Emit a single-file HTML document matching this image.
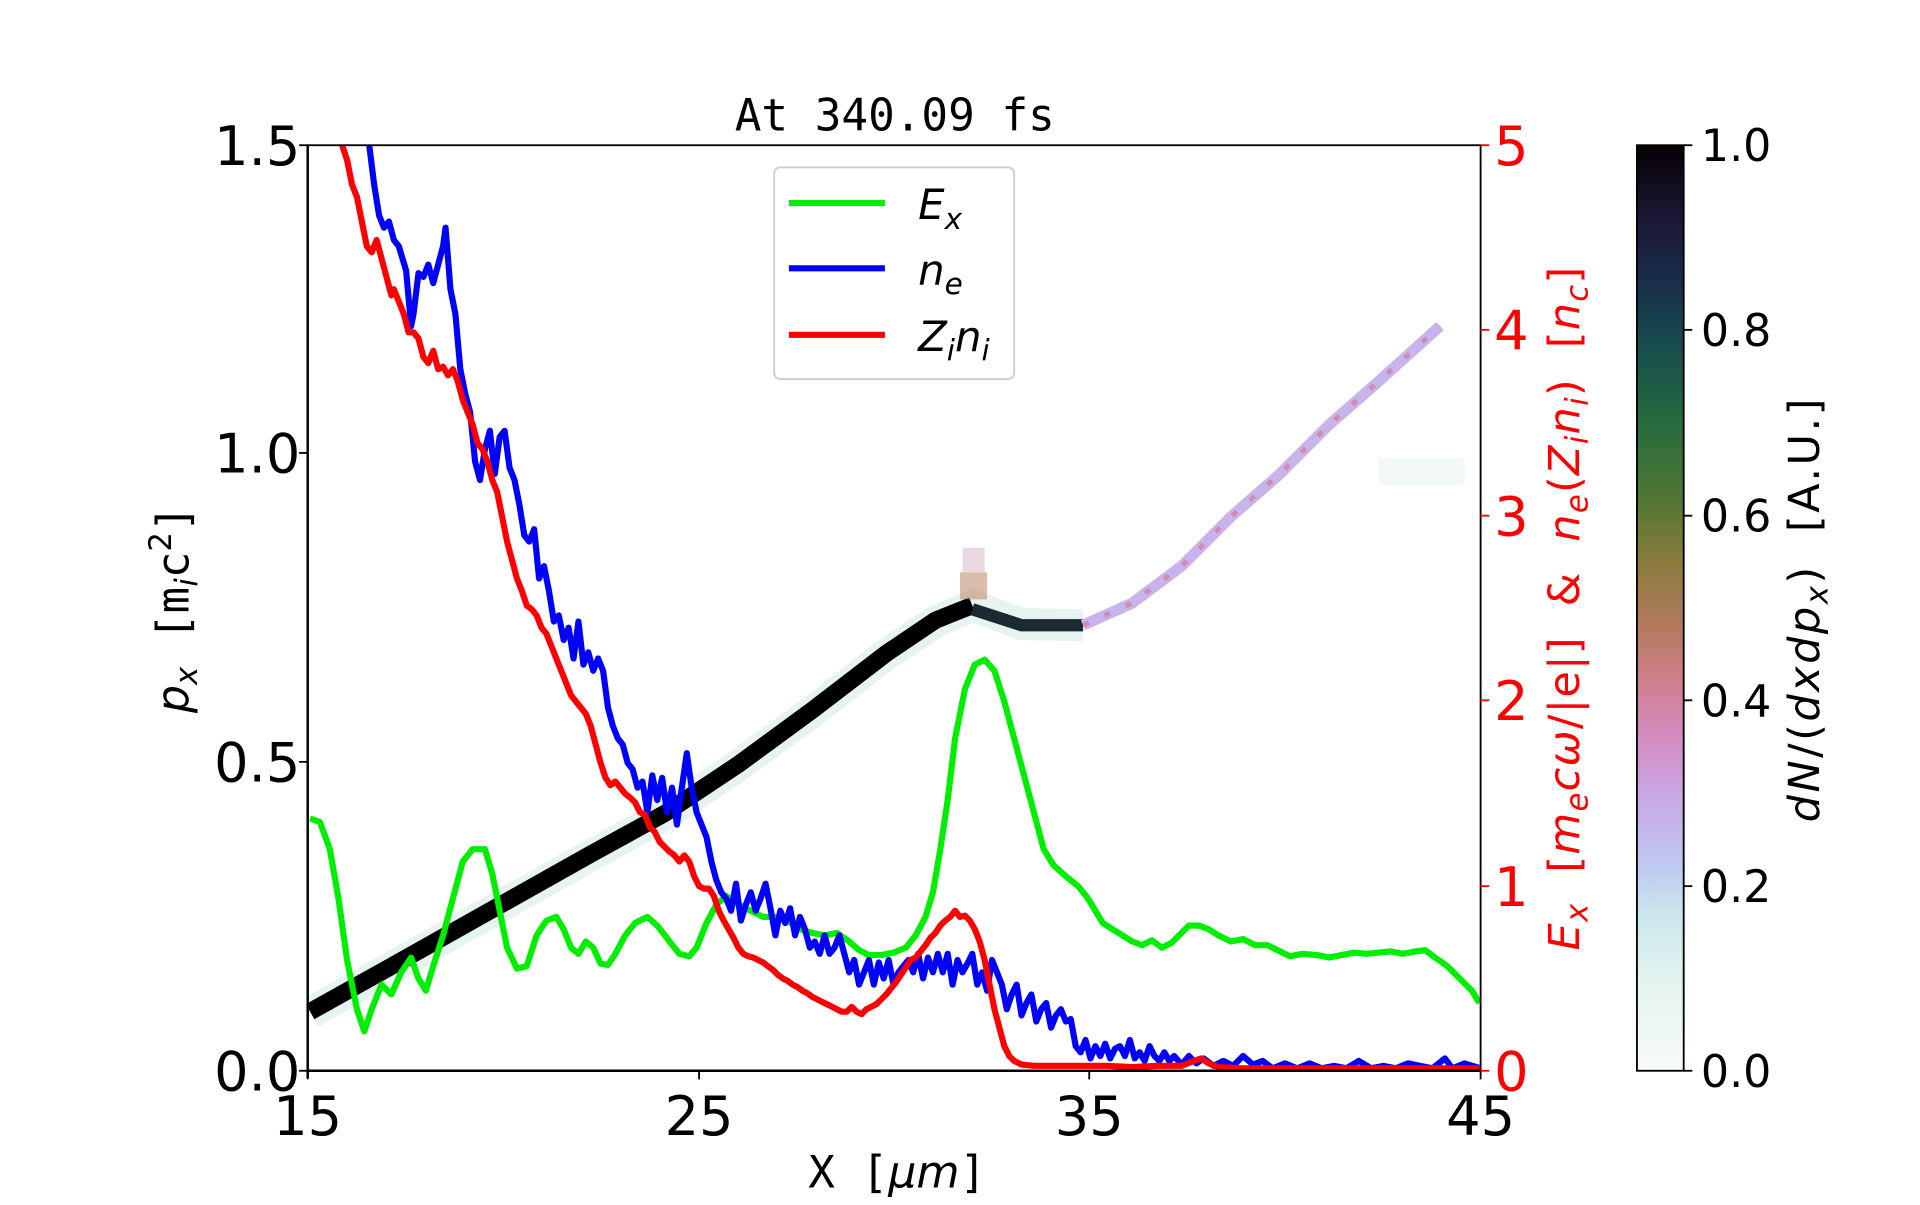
<!DOCTYPE html>
<html><head><style>html,body{margin:0;padding:0;background:#fff;overflow:hidden}</style></head>
<body>
<svg width="1920" height="1200" viewBox="0 0 1560 975" preserveAspectRatio="none" xmlns="http://www.w3.org/2000/svg" font-family="'DejaVu Sans','Liberation Sans',sans-serif">
<defs>
<linearGradient id="cb" x1="0" y1="1" x2="0" y2="0">
<stop offset="0" stop-color="#f7fbf8"/>
<stop offset="0.1" stop-color="#e3f3ee"/>
<stop offset="0.17" stop-color="#c9e6ec"/>
<stop offset="0.22" stop-color="#bfc9f1"/>
<stop offset="0.3" stop-color="#c9a6e3"/>
<stop offset="0.36" stop-color="#d48cc2"/>
<stop offset="0.42" stop-color="#cf7f8e"/>
<stop offset="0.48" stop-color="#b27a5e"/>
<stop offset="0.55" stop-color="#8a7c3c"/>
<stop offset="0.62" stop-color="#4f7632"/>
<stop offset="0.7" stop-color="#266b3e"/>
<stop offset="0.78" stop-color="#174d4d"/>
<stop offset="0.86" stop-color="#1a2b48"/>
<stop offset="0.93" stop-color="#1a1530"/>
<stop offset="1" stop-color="#050004"/>
</linearGradient>
<clipPath id="ax"><rect x="250" y="118" width="953" height="752"/></clipPath>
</defs>
<text x="727" y="106" font-family="'DejaVu Sans Mono','Liberation Mono',monospace" font-size="36" text-anchor="middle">At 340.09 fs</text>

<g clip-path="url(#ax)">
<polyline points="252,823 320,785 400,740 480,695 540,662 600,622 660,578 720,532 760,505 790,492 830,507 880,508" fill="none" stroke="#e6f3f0" stroke-width="26"/>
<polyline points="252,822 320,784 400,739 480,694 540,661 600,621 660,577 720,531 760,504 790,492" fill="none" stroke="#000" stroke-width="14"/>
<polyline points="790,495 830,508 880,508" fill="none" stroke="#1a2a30" stroke-width="10"/>
<polyline points="880,508 920,490 960,460 1000,420 1040,385 1080,345 1120,310 1170,265" fill="none" stroke="#c8b4ec" stroke-width="9"/>
<polyline points="880,508 920,490 960,460 1000,420 1040,385 1080,345 1120,310 1170,265" fill="none" stroke="#d08cb4" stroke-width="4" stroke-dasharray="5 14"/>
<rect x="780" y="465" width="22" height="22" fill="#c09070" opacity="0.6"/>
<rect x="782" y="445" width="18" height="20" fill="#e0c8d8" opacity="0.7"/>
<rect x="1120" y="372" width="70" height="22" fill="#f2f8f5"/>

<polyline fill="none" stroke="#00ee00" stroke-width="5" stroke-linejoin="round" points="252,665 260,668 268,690 275,730 282,780 290,820 296,838 302,820 310,800 318,808 326,790 334,778 340,795 346,805 352,785 360,760 368,730 376,700 384,690 394,690 400,710 406,740 412,770 420,787 428,785 436,760 444,748 452,745 458,755 464,770 470,775 476,765 482,770 488,783 494,784 500,775 508,760 516,750 526,745 534,752 544,765 552,775 560,777 566,770 574,750 582,735 590,728 600,735 610,740 620,745 630,745 640,748 650,755 660,758 670,760 680,758 690,765 698,772 706,776 716,776 726,774 736,770 744,760 752,745 758,725 764,690 770,650 776,600 784,560 792,540 800,536 808,545 816,570 824,600 832,630 840,660 848,690 856,703 866,712 876,720 884,730 890,740 896,750 904,755 912,760 920,765 928,768 936,764 944,770 952,766 960,758 966,752 974,752 982,755 990,760 1000,765 1010,763 1020,768 1030,768 1040,773 1048,777 1058,775 1070,776 1080,778 1090,776 1100,774 1110,775 1120,774 1130,773 1140,775 1150,773 1158,772 1166,778 1176,785 1186,795 1196,805 1202,815"/>
<polyline fill="none" stroke="#0000ff" stroke-width="5" stroke-linejoin="round" points="300,118 304,150 308,175 312,185 316,180 320,195 324,200 330,220 334,265 336,255 340,222 344,225 348,215 352,230 356,215 360,200 362,185 366,235 370,255 374,300 378,320 382,335 386,375 390,390 394,365 398,350 402,385 406,355 410,350 414,380 418,390 422,410 426,435 430,440 434,430 438,470 442,460 446,480 450,505 454,500 458,520 462,510 466,535 470,505 474,540 478,530 482,545 486,535 490,545 494,575 498,590 502,600 506,605 510,620 514,625 518,640 522,635 526,660 530,630 534,650 538,632 542,660 546,640 550,670 554,640 558,612 562,640 566,660 570,670 574,680 578,700 582,715 586,725 590,730 594,740 598,718 602,748 606,735 610,725 614,740 618,730 622,718 626,738 630,760 634,740 638,750 642,738 646,760 650,745 654,755 658,770 662,765 666,775 670,760 674,775 678,770 682,760 686,775 690,790 694,780 698,800 702,790 706,780 710,800 714,782 718,795 722,780 726,800 730,790 734,785 738,780 742,790 746,775 750,795 754,778 758,790 762,775 766,790 770,775 774,800 778,780 782,790 786,783 790,775 794,800 798,790 802,805 806,780 810,790 814,800 818,820 822,808 826,800 830,825 834,815 838,808 842,830 846,820 850,815 854,835 858,825 862,820 866,830 870,828 874,850 878,855 882,845 886,860 890,850 894,858 898,848 902,860 906,852 910,850 914,858 918,845 922,860 926,855 930,862 934,850 938,858 942,862 946,855 950,862 954,858 960,865 966,858 972,864 978,860 986,866 994,862 1002,866 1010,858 1018,865 1026,862 1034,868 1044,864 1054,868 1064,864 1074,868 1084,866 1094,868 1104,862 1114,868 1124,866 1134,868 1144,864 1154,866 1164,868 1174,860 1180,868 1190,864 1203,868"/>
<polyline fill="none" stroke="#ff0000" stroke-width="5" stroke-linejoin="round" points="278,118 282,130 286,150 290,160 294,180 298,200 302,205 306,195 310,210 314,225 318,240 320,235 324,245 328,255 332,270 336,270 340,275 344,290 348,295 352,285 356,300 360,298 364,305 368,300 372,310 376,325 380,335 384,345 388,360 392,365 396,375 400,390 404,400 408,420 412,440 416,455 420,470 424,480 428,492 432,495 436,500 440,510 444,515 448,525 452,535 456,545 460,555 464,565 468,570 472,575 476,580 480,590 484,605 488,620 492,632 496,638 500,635 504,640 508,645 512,648 516,652 520,660 524,662 528,672 532,676 536,684 540,688 544,692 548,695 552,700 556,695 560,700 564,712 568,720 572,722 576,722 580,728 584,740 588,748 592,755 596,762 600,770 604,775 608,777 612,778 616,780 620,782 624,785 628,788 632,792 636,795 640,797 644,800 648,802 652,805 656,807 660,810 664,812 668,814 672,816 676,818 680,820 684,822 688,822 692,818 696,822 700,824 704,820 708,818 712,816 716,812 720,808 724,803 728,798 732,792 736,786 740,780 744,778 748,773 752,768 756,762 760,758 764,752 768,748 772,745 776,740 780,745 784,744 788,748 792,755 796,765 800,780 804,800 808,820 812,835 816,850 820,858 824,862 830,865 840,866 860,866 880,866 900,866 920,867 940,866 960,866 970,862 976,860 982,864 990,867 1010,868 1100,868 1203,868"/>
</g>

<rect x="250" y="118" width="953" height="752" fill="none" stroke="#000" stroke-width="1.5"/>
<line x1="250" y1="870" x2="1203" y2="870" stroke="#000" stroke-width="2"/>
<line x1="250" y1="118" x2="250" y2="876" stroke="#000" stroke-width="2"/>
<g stroke="#000" stroke-width="1.5">
<line x1="243" y1="870" x2="250" y2="870"/><line x1="243" y1="619" x2="250" y2="619"/><line x1="243" y1="368" x2="250" y2="368"/><line x1="243" y1="118" x2="250" y2="118"/>
<line x1="250" y1="870" x2="250" y2="877"/><line x1="568" y1="870" x2="568" y2="877"/><line x1="885" y1="870" x2="885" y2="877"/><line x1="1203" y1="870" x2="1203" y2="877"/>
</g>
<g font-size="44" text-anchor="end">
<text x="244" y="886">0.0</text><text x="244" y="635">0.5</text><text x="244" y="384">1.0</text><text x="244" y="134">1.5</text>
</g>
<g font-size="44" text-anchor="middle">
<text x="250" y="922">15</text><text x="568" y="922">25</text><text x="885" y="922">35</text><text x="1203" y="922">45</text>
</g>
<text x="729" y="965" font-family="'DejaVu Sans Mono','Liberation Mono',monospace" font-size="36" text-anchor="middle">X [<tspan font-style="italic" font-family="'DejaVu Sans',sans-serif">μm</tspan>]</text>
<text transform="translate(153,495) rotate(-90)" font-size="36" text-anchor="middle"><tspan font-style="italic">p</tspan><tspan font-size="25" dy="7" font-style="italic">x</tspan><tspan dy="-7" font-family="'DejaVu Sans Mono',monospace">  [m</tspan><tspan font-size="25" dy="7" font-style="italic">i</tspan><tspan dy="-7" font-family="'DejaVu Sans Mono',monospace">c</tspan><tspan font-size="25" dy="-14">2</tspan><tspan dy="14" font-family="'DejaVu Sans Mono',monospace">]</tspan></text>

<g stroke="#ff0000" stroke-width="1.5">
<line x1="1203" y1="870" x2="1210" y2="870"/><line x1="1203" y1="720" x2="1210" y2="720"/><line x1="1203" y1="569" x2="1210" y2="569"/><line x1="1203" y1="419" x2="1210" y2="419"/><line x1="1203" y1="268" x2="1210" y2="268"/><line x1="1203" y1="118" x2="1210" y2="118"/>
</g>
<g font-size="44" fill="#ff0000">
<text x="1214" y="886">0</text><text x="1214" y="736">1</text><text x="1214" y="585">2</text><text x="1214" y="435">3</text><text x="1214" y="284">4</text><text x="1214" y="134">5</text>
</g>
<text transform="translate(1283,494) rotate(-90)" font-size="35" fill="#ff0000" text-anchor="middle" letter-spacing="1" xml:space="preserve"><tspan font-style="italic">E</tspan><tspan font-size="25" dy="7" font-style="italic">x</tspan><tspan dy="-7">  [</tspan><tspan font-style="italic">m</tspan><tspan font-size="25" dy="7" font-style="italic">e</tspan><tspan dy="-7" font-style="italic">cω</tspan><tspan>/|e|]  &amp;  </tspan><tspan font-style="italic">n</tspan><tspan font-size="25" dy="7" font-style="italic">e</tspan><tspan dy="-7">(</tspan><tspan font-style="italic">Z</tspan><tspan font-size="25" dy="7" font-style="italic">i</tspan><tspan dy="-7" font-style="italic">n</tspan><tspan font-size="25" dy="7" font-style="italic">i</tspan><tspan dy="-7">)  [</tspan><tspan font-style="italic">n</tspan><tspan font-size="25" dy="7" font-style="italic">c</tspan><tspan dy="-7">]</tspan></text>

<rect x="629" y="136" width="195" height="172" rx="5" fill="#fff" fill-opacity="0.85" stroke="#ccc" stroke-width="1.5"/>
<line x1="641" y1="165" x2="719" y2="165" stroke="#00ee00" stroke-width="5"/>
<line x1="641" y1="218" x2="719" y2="218" stroke="#0000ff" stroke-width="5"/>
<line x1="641" y1="272" x2="719" y2="272" stroke="#ff0000" stroke-width="5"/>
<g font-size="34" font-style="italic">
<text x="746" y="178">E<tspan font-size="24" dy="8">x</tspan></text>
<text x="746" y="231">n<tspan font-size="24" dy="8">e</tspan></text>
<text x="746" y="285">Z<tspan font-size="24" dy="8">i</tspan><tspan dy="-8">n</tspan><tspan font-size="24" dy="8">i</tspan></text>
</g>

<rect x="1330" y="118" width="38" height="752" fill="url(#cb)" stroke="#000" stroke-width="1.5"/>
<g stroke="#000" stroke-width="1.5">
<line x1="1368" y1="870" x2="1375" y2="870"/><line x1="1368" y1="720" x2="1375" y2="720"/><line x1="1368" y1="569" x2="1375" y2="569"/><line x1="1368" y1="419" x2="1375" y2="419"/><line x1="1368" y1="268" x2="1375" y2="268"/><line x1="1368" y1="118" x2="1375" y2="118"/>
</g>
<g font-size="36">
<text x="1382" y="883">0.0</text><text x="1382" y="733">0.2</text><text x="1382" y="582">0.4</text><text x="1382" y="432">0.6</text><text x="1382" y="281">0.8</text><text x="1382" y="131">1.0</text>
</g>
<text transform="translate(1478,495) rotate(-90)" font-size="35" text-anchor="middle" letter-spacing="2" xml:space="preserve"><tspan font-style="italic">dN</tspan>/(<tspan font-style="italic">dxdp</tspan><tspan font-size="25" dy="7" font-style="italic">x</tspan><tspan dy="-7">)  [A.U.]</tspan></text>
</svg>
</body></html>
